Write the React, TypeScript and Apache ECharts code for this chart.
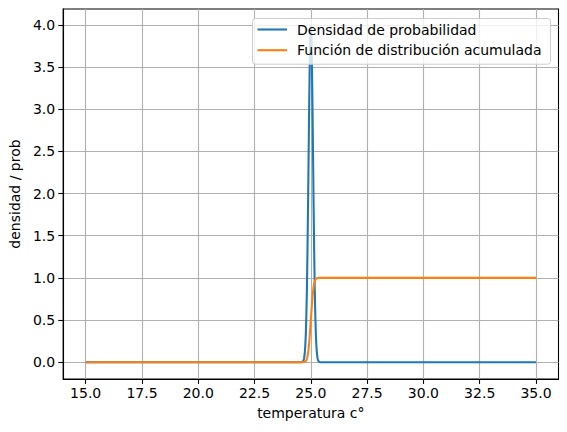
import React, { useEffect, useRef } from "react";
import * as echarts from "echarts";

// temperature samples (°C)
const tempX = [
  15, 24.5, 24.6, 24.65, 24.675, 24.7, 24.725, 24.75, 24.775, 24.8, 24.825, 24.85, 24.875, 24.9, 24.925, 24.95, 24.975,
  25, 25.025, 25.05, 25.075, 25.1, 25.125, 25.15, 25.175, 25.2, 25.225, 25.25, 25.275, 25.3, 25.325, 25.35, 25.4, 25.5, 35,
];
// probability density
const densityY = [
  0, 0, 0.001, 0.009, 0.02, 0.044, 0.091, 0.175, 0.318, 0.54, 0.863, 1.295, 1.826, 2.42, 3.011, 3.52, 3.866,
  3.989, 3.866, 3.52, 3.011, 2.42, 1.826, 1.295, 0.863, 0.54, 0.318, 0.175, 0.091, 0.044, 0.02, 0.009, 0.001, 0, 0,
];
// cumulative distribution
const cdfY = [
  0, 0, 0, 0.0002, 0.0006, 0.0013, 0.003, 0.0062, 0.0122, 0.0228, 0.0401, 0.0668, 0.1056, 0.1587, 0.2266, 0.3085, 0.4013,
  0.5, 0.5987, 0.6915, 0.7734, 0.8413, 0.8944, 0.9332, 0.9599, 0.9772, 0.9878, 0.9938, 0.997, 0.9987, 0.9994, 0.9998, 1, 1, 1,
];

const xTicks = [15, 17.5, 20, 22.5, 25, 27.5, 30, 32.5, 35];
const yTicks = [0, 0.5, 1, 1.5, 2, 2.5, 3, 3.5, 4];

const seriesNames = ["Densidad de probabilidad", "Función de distribución acumulada"];
const colors = ["#1f77b4", "#ff7f0e"];

const FONT = "DejaVu Sans";
const FS = 14;

export default function App() {
  const ref = useRef<HTMLDivElement>(null);
  useEffect(() => {
    if (!ref.current) return;
    const chart = echarts.init(ref.current, undefined, { renderer: "svg" });
    const toPairs = (ys: number[]) => tempX.map((x, i) => [x, ys[i]]);
    chart.setOption({
      animation: false,
      backgroundColor: "#ffffff",
      grid: {
        left: 61.5,
        right: 8.5,
        top: 9,
        bottom: 53,
        show: true,
        borderColor: "#000",
        borderWidth: 1.1,
        backgroundColor: "transparent",
        containLabel: false,
      },
      legend: {
        orient: "vertical",
        right: 16.5,
        top: 18.5,
        data: seriesNames,
        icon: "rect",
        itemWidth: 29.5,
        itemHeight: 2.1,
        itemGap: 4.7,
        padding: [3, 9, 6, 5],
        backgroundColor: "rgba(255,255,255,0.8)",
        borderColor: "#cccccc",
        borderWidth: 1,
        borderRadius: 3,
        textStyle: {
          fontFamily: FONT,
          fontSize: FS,
          color: "#000",
          lineHeight: 16,
          padding: [0, 0, 0, 5],
        },
      },
      xAxis: {
        type: "value",
        min: 14,
        max: 36,
        name: "temperatura c°",
        nameLocation: "middle",
        nameGap: 27,
        nameTextStyle: { fontFamily: FONT, fontSize: FS, color: "#000" },
        axisLine: { show: true, onZero: false, lineStyle: { color: "#000", width: 1.1 } },
        axisTick: { show: true, length: 4.9, customValues: xTicks, lineStyle: { color: "#000", width: 1.1 } },
        axisLabel: {
          customValues: xTicks,
          margin: 7,
          fontFamily: FONT,
          fontSize: FS,
          color: "#000",
          formatter: (v: number) => v.toFixed(1),
        },
        splitLine: { show: true, lineStyle: { color: "#b0b0b0", width: 1.1 } },
      },
      yAxis: {
        type: "value",
        min: -0.1995,
        max: 4.188,
        name: "densidad / prob",
        nameLocation: "middle",
        nameGap: 38,
        nameRotate: 90,
        nameTextStyle: { fontFamily: FONT, fontSize: FS, color: "#000" },
        axisLine: { show: true, onZero: false, lineStyle: { color: "#000", width: 1.1 } },
        axisTick: { show: true, length: 4.9, customValues: yTicks, lineStyle: { color: "#000", width: 1.1 } },
        axisLabel: {
          customValues: yTicks,
          margin: 8,
          fontFamily: FONT,
          fontSize: FS,
          color: "#000",
          formatter: (v: number) => v.toFixed(1),
        },
        splitLine: { show: true, lineStyle: { color: "#b0b0b0", width: 1.1 } },
      },
      series: [
        {
          name: seriesNames[0],
          type: "line",
          data: toPairs(densityY),
          showSymbol: false,
          symbol: "none",
          lineStyle: { color: colors[0], width: 2.08 },
          itemStyle: { color: colors[0] },
          z: 3,
        },
        {
          name: seriesNames[1],
          type: "line",
          data: toPairs(cdfY),
          showSymbol: false,
          symbol: "none",
          lineStyle: { color: colors[1], width: 2.08 },
          itemStyle: { color: colors[1] },
          z: 3,
        },
      ],
    });
    return () => chart.dispose();
  }, []);
  return (
    <div
      ref={ref}
      style={{ position: "fixed", left: 0, top: 0, width: 567, height: 432, background: "#fff" }}
    />
  );
}
